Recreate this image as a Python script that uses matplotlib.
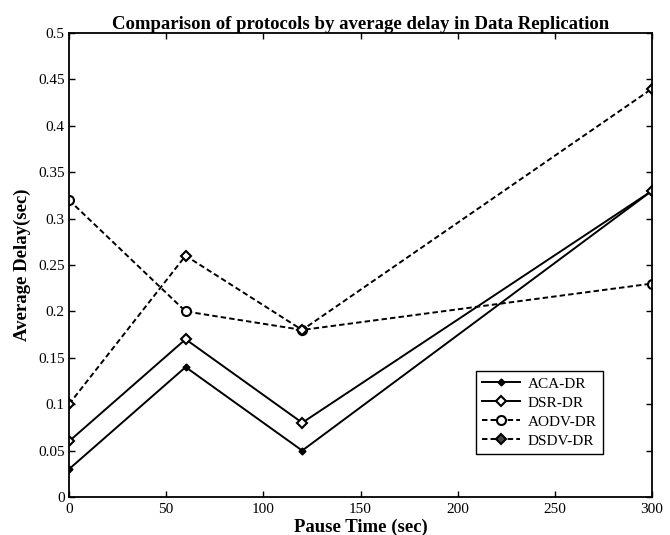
import matplotlib
matplotlib.use("Agg")
import matplotlib.pyplot as plt

plt.rcParams['font.family'] = ['Liberation Serif', 'DejaVu Serif']

pause_time = [0, 60, 120, 300]
aca_dr = [0.03, 0.14, 0.05, 0.33]
dsr_dr = [0.06, 0.17, 0.08, 0.33]
aodv_dr = [0.32, 0.20, 0.18, 0.23]
dsdv_dr = [0.10, 0.26, 0.18, 0.44]
labels = ['ACA-DR', 'DSR-DR', 'AODV-DR', 'DSDV-DR']
x_ticks = [0, 50, 100, 150, 200, 250, 300]
y_ticks = [0, 0.05, 0.1, 0.15, 0.2, 0.25, 0.3, 0.35, 0.4, 0.45, 0.5]
y_tick_labels = ['0', '0.05', '0.1', '0.15', '0.2', '0.25', '0.3', '0.35', '0.4', '0.45', '0.5']

fig = plt.figure(figsize=(6.7, 5.35), dpi=100)
ax = fig.add_axes([69/670, 38/535, 583/670, 464/535])

lw = 1.4
dash = (2.8, 1.6)
ax.plot(pause_time, aca_dr, color='black', lw=lw, marker='D', ms=3.5,
        markerfacecolor='black', label=labels[0])
ax.plot(pause_time, dsr_dr, color='black', lw=lw, marker='D', ms=5.5,
        markerfacecolor='white', markeredgewidth=1.5, label=labels[1])
ax.plot(pause_time, aodv_dr, color='black', lw=lw, ls=(0, dash), marker='o', ms=6.5,
        markerfacecolor='white', markeredgewidth=1.5, label=labels[2])
ax.plot(pause_time, dsdv_dr, color='black', lw=lw, ls=(0, dash), marker='D', ms=5.5,
        markerfacecolor='white', markeredgewidth=1.5, label=labels[3])

ax.set_xlim(0, 300)
ax.set_ylim(0, 0.5)
ax.set_xticks(x_ticks)
ax.set_yticks(y_ticks)
ax.set_yticklabels(y_tick_labels)
ax.tick_params(direction='in', top=True, right=True, length=4.5, width=1,
               labelsize=11)
ax.tick_params(axis='x', pad=4)
ax.tick_params(axis='y', pad=3)
for s in ax.spines.values():
    s.set_linewidth(1.3)

ax.set_title('Comparison of protocols by average delay in Data Replication',
             fontsize=13.5, fontweight='bold', pad=3)
ax.set_xlabel('Pause Time (sec)', fontsize=13.5, fontweight='bold', labelpad=2)
ax.set_ylabel('Average Delay(sec)', fontsize=13.5, fontweight='bold', labelpad=5)

leg = ax.legend(loc='lower left', bbox_to_anchor=(0.698, 0.093), fontsize=11,
                frameon=True, fancybox=False, edgecolor='black', framealpha=1,
                handlelength=2.5, borderpad=0.4, labelspacing=0.35, handletextpad=0.5,
                borderaxespad=0)
leg.get_frame().set_linewidth(1.0)
leg.legend_handles[3].set_markerfacecolor('#444444')

fig.savefig('out.png', dpi=100)
